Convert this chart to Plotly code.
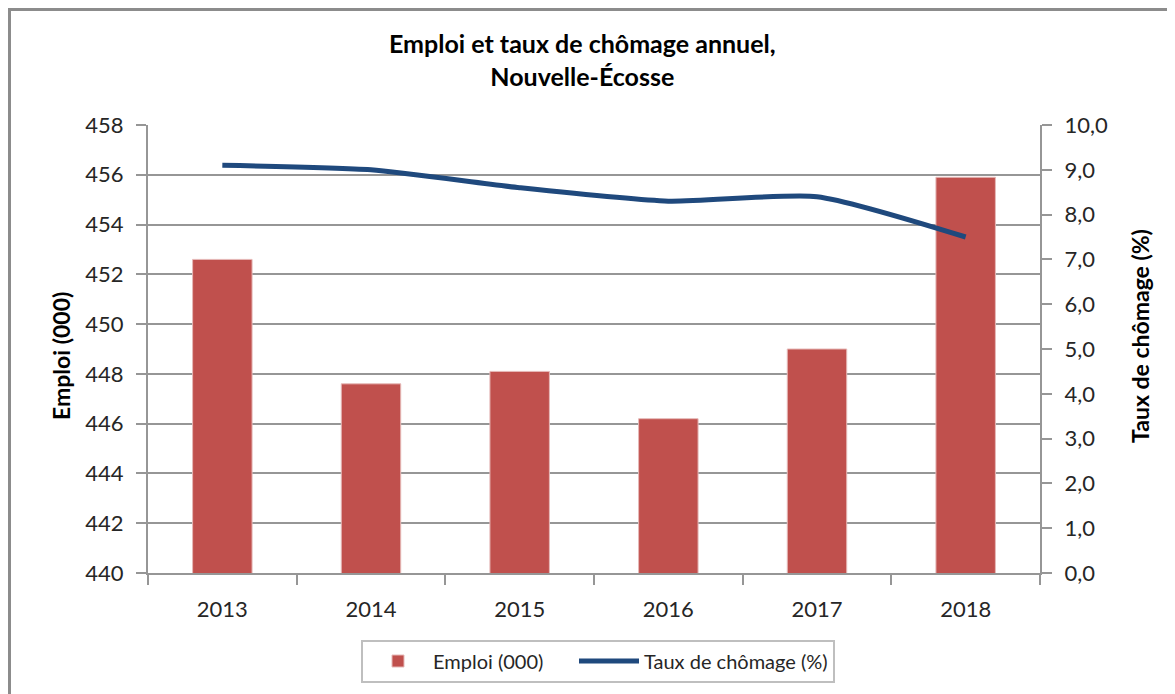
import plotly.graph_objects as go

years = ["2013", "2014", "2015", "2016", "2017", "2018"]
emploi = [452.6, 447.6, 448.1, 446.2, 449.0, 455.9]
chomage = [9.1, 9.0, 8.6, 8.3, 8.4, 7.5]

left_ticks = [440, 442, 444, 446, 448, 450, 452, 454, 456, 458]
right_ticks = [0, 1, 2, 3, 4, 5, 6, 7, 8, 9, 10]

W, H = 1175, 694
OFF = 8  # page body margin offset
# desired plot area in screen pixels
SX0, SX1, SY0, SY1 = 148, 1040, 125, 573
L = SX0 - OFF
T = SY0 - OFF
R = W - (SX1 - OFF)
B = H - (SY1 - OFF)

FONT = "Lato, Carlito, Calibri, sans-serif"
GRID = "#969696"

fig = go.Figure()
fig.add_trace(go.Bar(
    x=years, y=emploi, name="Emploi (000)" + "\u00a0" * 5,
    marker=dict(color="#C0504D", line=dict(color="#E6B9B8", width=1)),
    width=0.4, yaxis="y",
))
fig.add_trace(go.Scatter(
    x=years, y=chomage, name="Taux de chômage (%)", mode="lines",
    line=dict(color="#1F497D", width=5, shape="spline", smoothing=0.6),
    yaxis="y2",
))

def px_x(sx):
    return (sx - SX0) / (SX1 - SX0)

def px_y(sy):
    return (SY1 - sy) / (SY1 - SY0)

fig.update_layout(
    width=W, height=H,
    margin=dict(l=L, r=R, t=T, b=B),
    paper_bgcolor="white", plot_bgcolor="white",
    separators=", ",
    font=dict(family=FONT, size=22, color="#262626"),
    xaxis=dict(
        type="category", showgrid=False,
        showline=True, linecolor=GRID, linewidth=2,
        ticks="outside", ticklen=10, tickwidth=2, tickcolor=GRID,
        tickson="boundaries", ticklabelstandoff=16,
        tickfont=dict(size=22, color="#262626"),
    ),
    yaxis=dict(
        range=[440, 458], tickvals=left_ticks, ticktext=[str(v) for v in left_ticks],
        showgrid=True, gridcolor=GRID, gridwidth=2,
        showline=True, linecolor=GRID, linewidth=2,
        ticks="outside", ticklen=10, tickwidth=2, tickcolor=GRID,
        ticklabelstandoff=8, zeroline=False,
        tickfont=dict(size=22, color="#262626"),
    ),
    yaxis2=dict(
        range=[0, 10], tickvals=right_ticks, tickformat=".1f",
        overlaying="y", side="right", showgrid=False,
        showline=True, linecolor=GRID, linewidth=2,
        ticks="outside", ticklen=10, tickwidth=2, tickcolor=GRID,
        ticklabelstandoff=8, zeroline=False,
        tickfont=dict(size=22, color="#262626"),
    ),
    legend=dict(
        orientation="h", x=px_x(598), xanchor="center",
        y=px_y(661), yanchor="middle",
        bordercolor="#BFBFBF", borderwidth=2, bgcolor="white",
        font=dict(family=FONT, size=20, color="#262626"),
        itemwidth=60, traceorder="normal",
    ),
    showlegend=True,
    annotations=[
        dict(text="<b>Emploi et taux de chômage annuel,<br>Nouvelle-Écosse</b>",
             xref="paper", yref="paper", x=px_x(582), y=px_y(60),
             xanchor="center", yanchor="middle", align="center",
             showarrow=False, font=dict(family=FONT, size=25, color="#000000")),
        dict(text="<b>Emploi (000)</b>", textangle=-90, xref="paper", yref="paper",
             x=px_x(61), y=px_y(356), xanchor="center", yanchor="middle",
             showarrow=False, font=dict(family=FONT, size=23, color="#000000")),
        dict(text="<b>Taux de chômage (%)</b>", textangle=-90, xref="paper", yref="paper",
             x=px_x(1140), y=px_y(336), xanchor="center", yanchor="middle",
             showarrow=False, font=dict(family=FONT, size=23, color="#000000")),
    ],
    shapes=[
        dict(type="rect", xref="paper", yref="paper",
             x0=px_x(9.5), x1=px_x(1169), y0=px_y(710), y1=px_y(9.5),
             line=dict(color="#8C8C8C", width=3), fillcolor="rgba(0,0,0,0)", layer="below"),
    ],
)

fig.write_html("out.html")
